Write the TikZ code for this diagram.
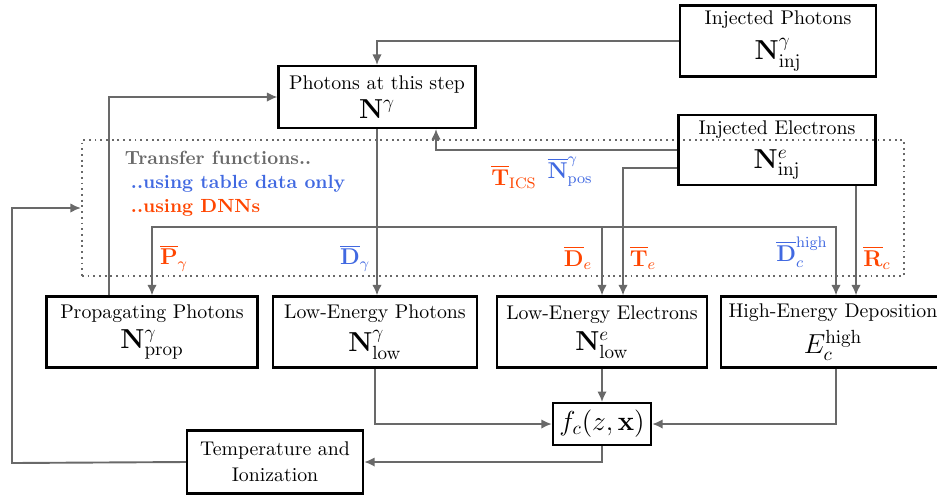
\documentclass[tikz,border=0pt]{standalone}
\usepackage{amsmath}
\usetikzlibrary{arrows.meta, calc}

\definecolor{tfblue}{RGB}{65,105,225}
\definecolor{tforange}{RGB}{255,69,0}
\definecolor{flowgray}{RGB}{105,105,105}

\tikzset{
  block/.style={draw=black, line width=1.2pt, align=center, inner sep=2pt},
  flow/.style={draw=flowgray, line width=1pt, -{Latex[length=5.5pt,width=5pt]}},
  tfbox/.style={draw=flowgray, line width=1pt, dotted},
  lbl/.style={font=\large, inner sep=1pt}
}

\begin{document}
\fontsize{10.4}{12.5}\selectfont
\begin{tikzpicture}[x=0.01845cm, y=-0.01845cm]
\useasboundingbox (0,0) rectangle (937,498);

% region of the transfer functions
\node[tfbox, minimum width=15.17cm, minimum height=2.51cm] (tf) at (493,208) {};

\node[anchor=west, text=flowgray, font=\normalsize\bfseries] (tftitle) at (118,158) {Transfer functions..};
\node[anchor=west, text=tfblue, font=\normalsize\bfseries] (tftable) at (124,184) {..using table data only};
\node[anchor=west, text=tforange, font=\normalsize\bfseries] (tfdnn) at (124,208) {..using DNNs};

% boxes
\node[block, minimum width=3.62cm, minimum height=1.31cm] (injph) at (778,41)
  {Injected Photons\\[4pt] {\Large $\mathbf{N}^\gamma_{\mathrm{inj}}$}};
\node[block, minimum width=3.63cm, minimum height=1.14cm] (step) at (377,97)
  {Photons at this step\\[3pt] {\Large $\mathbf{N}^\gamma$}};
\node[block, minimum width=3.63cm, minimum height=1.29cm] (injel) at (777,150)
  {Injected Electrons\\[5pt] {\Large $\mathbf{N}^e_{\mathrm{inj}}$}};

\node[block, minimum width=3.89cm, minimum height=1.31cm] (prop) at (152,332)
  {Propagating Photons\\[3pt] {\Large $\mathbf{N}^\gamma_{\mathrm{prop}}$}};
\node[block, minimum width=3.76cm, minimum height=1.31cm] (lowph) at (375,332)
  {Low-Energy Photons\\[3pt] {\Large $\mathbf{N}^\gamma_{\mathrm{low}}$}};
\node[block, minimum width=3.87cm, minimum height=1.31cm] (lowel) at (602,332)
  {Low-Energy Electrons\\[4pt] {\Large $\mathbf{N}^e_{\mathrm{low}}$}};
\node[block, minimum width=4.13cm, minimum height=1.31cm] (high) at (833,332)
  {High-Energy Deposition\\[4pt] {\Large $E^{\mathrm{high}}_c$}};

\node[block, minimum width=1.81cm, minimum height=0.77cm] (fc) at (602,424)
  {\Large $f_c(z,\mathbf{x})$};
\node[block, minimum width=3.25cm, minimum height=1.16cm] (temp) at (275,462)
  {Temperature and\\[1pt] Ionization};

% photons into this step
\draw[flow] (injph.west) -| (step.north);
\draw[flow] ($(prop.north west)!0.3!(prop.north east)$) |- (step.west);

% photons through the transfer functions
\draw[flow] (step.south) -- (step.south |- lowph.north);
\coordinate (bus) at (377,227);
\draw[flow] (bus) -| (prop.north);
\draw[flow] (bus) -| (lowel.north);
\draw[flow] (bus) -| ($(high.north)+(3,0)$);

% electrons
\draw[flow] (injel.west) -| ($(step.south)+(59,0)$);
\draw[flow] ($(injel.west)+(0,18)$) -| ($(lowel.north)+(21,0)$);
\draw[flow] ($(injel.south)+(79,0)$) coordinate (rc) -- (rc |- high.north);

% deposition
\draw[flow] (lowph.south) |- (fc.west);
\draw[flow] (lowel.south) -- (fc.north);
\draw[flow] ($(high.south)+(3,0)$) |- (fc.east);
\draw[flow] (fc.south) |- (temp.east);
\coordinate (back) at (12,463);
\draw[flow] (temp.west) -- (back) |- (tf.west);

%label transfer functions
\node[lbl, text=tforange] (lPg) at (174,258) {$\overline{\mathbf{P}}_\gamma$};
\node[lbl, text=tfblue] (lDg) at (355,258) {$\overline{\mathbf{D}}_\gamma$};
\node[lbl, text=tforange] (lTics) at (514,177) {$\overline{\mathbf{T}}_{\mathrm{ICS}}$};
\node[lbl, text=tfblue] (lNpos) at (570,172) {$\overline{\mathbf{N}}^\gamma_{\mathrm{pos}}$};
\node[lbl, text=tforange] (lDe) at (578,258) {$\overline{\mathbf{D}}_e$};
\node[lbl, text=tforange] (lTe) at (643,258) {$\overline{\mathbf{T}}_e$};
\node[lbl, text=tfblue] (lDhigh) at (802,252) {$\overline{\mathbf{D}}^{\mathrm{high}}_c$};
\node[lbl, text=tforange] (lRc) at (877,258) {$\overline{\mathbf{R}}_c$};

\end{tikzpicture}
\end{document}
